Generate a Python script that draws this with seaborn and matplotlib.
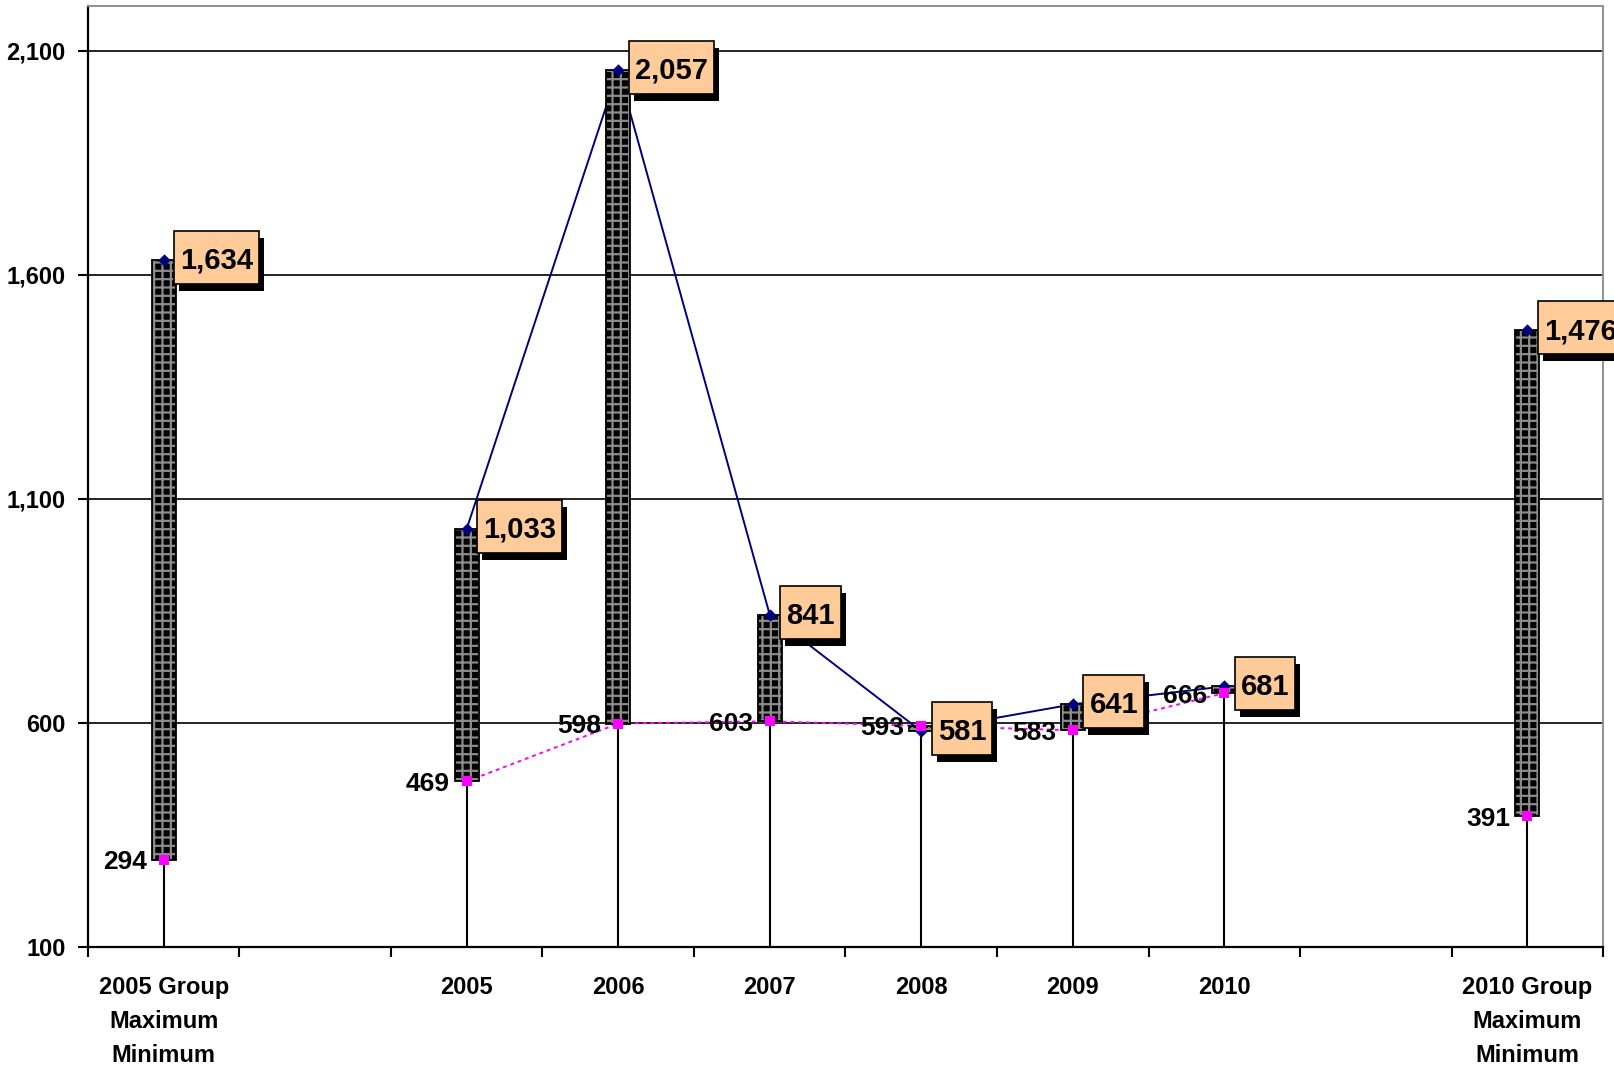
import matplotlib
matplotlib.use('Agg')
from matplotlib import pyplot as plt
from matplotlib.patches import Rectangle
from matplotlib.ticker import FuncFormatter, MultipleLocator
import numpy as np
import pandas as pd
import seaborn as sns

# Data
categories = ['2005 Group\nMaximum\nMinimum', '', '2005', '2006', '2007',
              '2008', '2009', '2010', '', '2010 Group\nMaximum\nMinimum']
maximum = [1634, np.nan, 1033, 2057, 841, 581, 641, 681, np.nan, 1476]
minimum = [294, np.nan, 469, 598, 603, 593, 583, 666, np.nan, 391]
year_slots = [2, 3, 4, 5, 6, 7]

sns.set_style('white')
plt.rcParams['font.family'] = ['Liberation Sans', 'DejaVu Sans']
plt.rcParams['font.weight'] = 'bold'
plt.rcParams['text.color'] = 'black'
plt.rcParams['xtick.color'] = 'black'
plt.rcParams['ytick.color'] = 'black'
plt.rcParams['hatch.linewidth'] = 1.6

df = pd.DataFrame({'pos': np.arange(len(categories)), 'cat': categories,
                   'hi': maximum, 'lo': minimum})
years = df[df.pos.isin(year_slots)]
valid = df.dropna()

fig = plt.figure(figsize=(16.14, 10.67), dpi=100)
ax = fig.add_axes([0.0545, 0.1128, 0.9387, 0.8816])

# drop lines
low_end = valid[['hi', 'lo']].min(axis=1)
ax.vlines(valid.pos, 100, low_end, color='black', lw=1.5, zorder=1)

# lines between years (behind bars)
sns.lineplot(x=years.pos, y=years.hi, color='#000080', lw=1.4, ax=ax, zorder=2)
sns.lineplot(x=years.pos, y=years.lo, color='#FF00FF', lw=1.4, ls=(0, (2, 2)),
             ax=ax, zorder=2)

# hi-lo bars
bottoms = valid[['hi', 'lo']].min(axis=1)
heights = (valid.hi - valid.lo).abs()
ax.bar(valid.pos, heights, bottom=bottoms, width=0.16, color='black',
       edgecolor='#8c8c8c', hatch='++', lw=0, zorder=3)
ax.bar(valid.pos, heights, bottom=bottoms, width=0.16, fill=False,
       edgecolor='black', lw=1.3, zorder=4)

# markers
ax.scatter(valid.pos, valid.hi, marker='D', s=40, color='#000080', zorder=5, lw=0)
ax.scatter(valid.pos, valid.lo, marker='s', s=42, color='#FF00FF', zorder=5, lw=0)

# axes
ax.set_xlim(-0.5, 9.5)
ax.set_ylim(100, 2200)
ax.set_yticks([100, 600, 1100, 1600, 2100])
ax.yaxis.set_major_formatter(FuncFormatter(lambda v, _: f'{v:,.0f}'))
ax.set_xticks(range(len(categories)))
ax.set_xticklabels(categories, fontsize=17, fontweight='bold', linespacing=1.62)
ax.xaxis.set_minor_locator(MultipleLocator(1, offset=0.5))
ax.tick_params(axis='x', which='major', length=0, pad=21, bottom=True)
ax.tick_params(axis='x', which='minor', length=7, width=1.5, direction='out',
               color='black', bottom=True)
ax.tick_params(axis='y', length=7, width=1.5, direction='out', pad=9,
               labelsize=17, left=True)
for lab in ax.get_yticklabels():
    lab.set_fontweight('bold')
ax.grid(axis='y', color='black', lw=1.2)
ax.grid(axis='x', visible=False)
ax.set_axisbelow(True)
ax.set_xlabel('')
ax.set_ylabel('')
for side in ['left', 'bottom']:
    ax.spines[side].set_color('black')
    ax.spines[side].set_linewidth(1.6)
for side in ['top', 'right']:
    ax.spines[side].set_color('#909090')
    ax.spines[side].set_linewidth(1.4)

# labels: max values in shadowed boxes, min values plain
renderer = fig.canvas.get_renderer()
for p, hi, lo in zip(valid.pos, valid.hi, valid.lo):
    t = ax.annotate(f'{hi:,.0f}', (p, hi), xytext=(12, 1.5), textcoords='offset points',
                    ha='left', va='center_baseline', fontsize=21, fontweight='bold',
                    zorder=9, annotation_clip=False)
    ext = t.get_window_extent(renderer)
    mx, my = ax.transData.transform((p, hi))
    bx0, bx1 = ext.x0 - 6, ext.x1 + 6
    by0, by1 = my + 2.5 - 26.5, my + 2.5 + 26.5
    ax.add_patch(Rectangle((bx0 + 5, by0 - 7), bx1 - bx0, by1 - by0, transform=None,
                           fc='black', ec='none', zorder=7, clip_on=False))
    ax.add_patch(Rectangle((bx0, by0), bx1 - bx0, by1 - by0, transform=None,
                           fc='#FFCC99', ec='black', lw=1.2, zorder=8, clip_on=False))
    ax.annotate(f'{lo:,.0f}', (p, lo), xytext=(-12, 0), textcoords='offset points',
                ha='right', va='center_baseline', fontsize=19, fontweight='bold', zorder=6)

plt.savefig('out.png', dpi=100)
